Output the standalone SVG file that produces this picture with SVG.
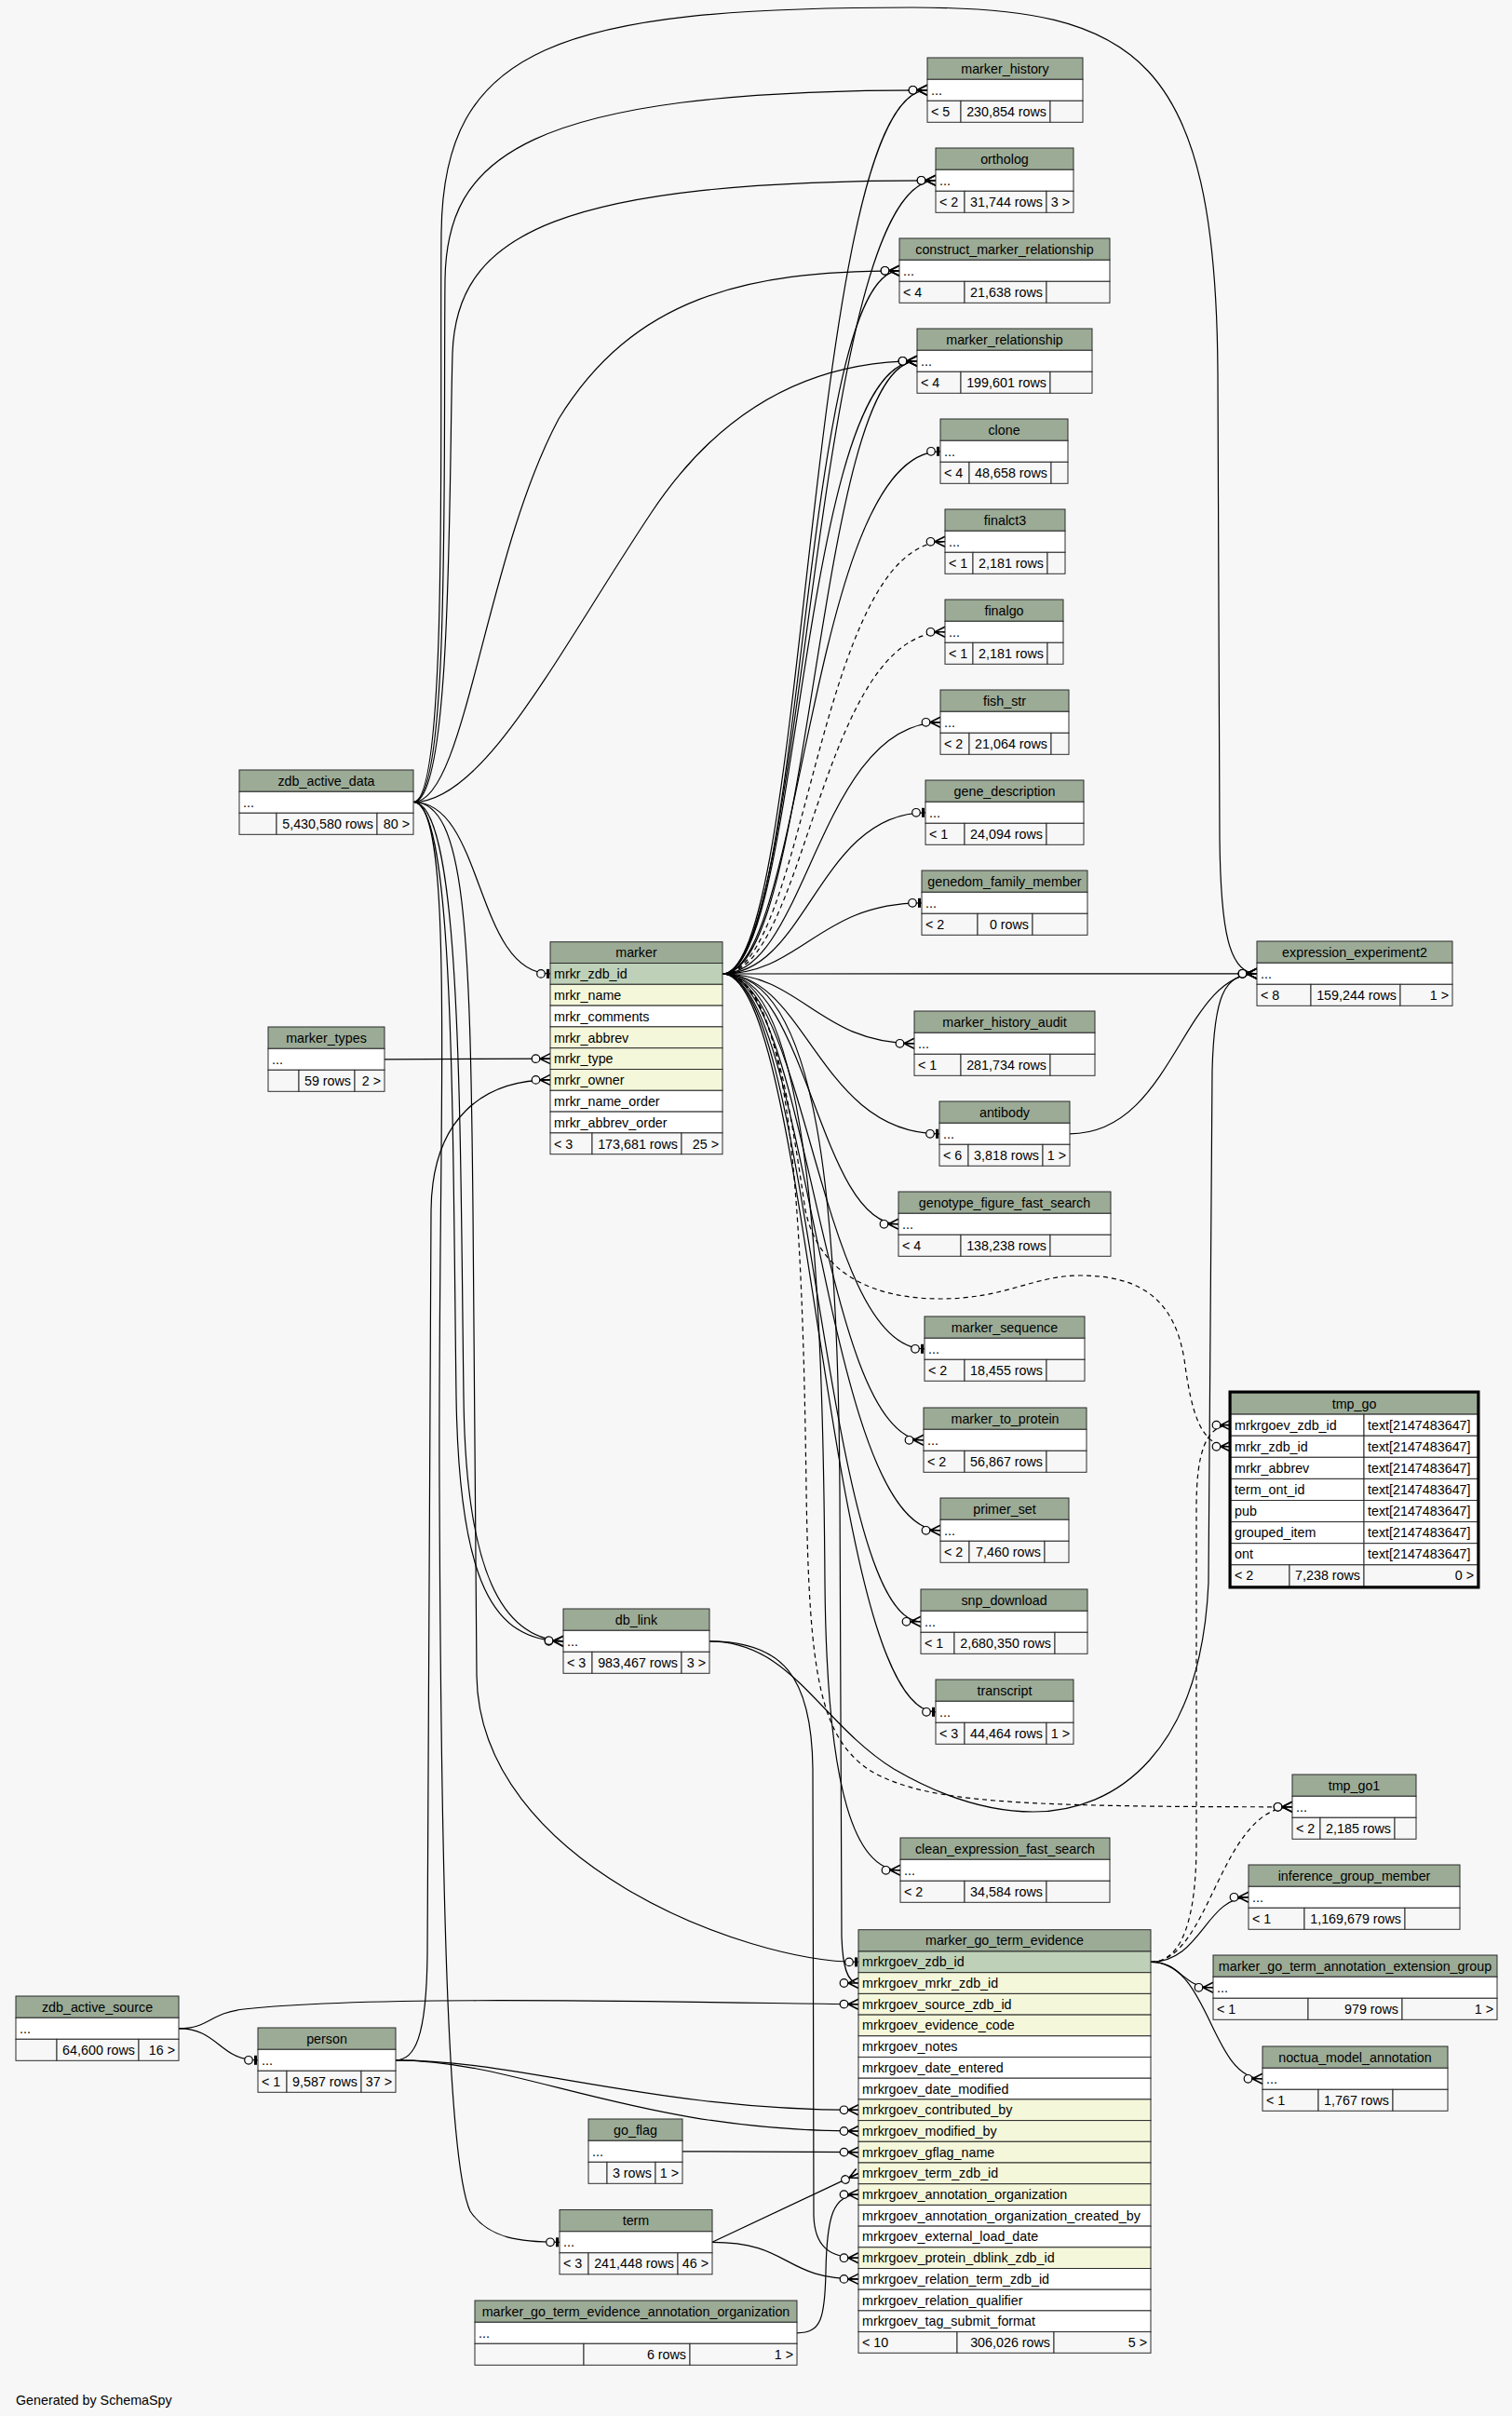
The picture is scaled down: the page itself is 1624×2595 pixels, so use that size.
<svg xmlns="http://www.w3.org/2000/svg" width="1624" height="2595" viewBox="0 0 1624 2595">
<style>
text{font-family:"Liberation Sans",Arial,Helvetica,sans-serif;font-size:14.3px;fill:#000}
.hd{fill:#9bab96;stroke:#2b2b2b;stroke-width:1}
.w{fill:#ffffff;stroke:#2b2b2b;stroke-width:1}
.pk{fill:#bed1b8;stroke:#2b2b2b;stroke-width:1}
.ix{fill:#f4f7da;stroke:#2b2b2b;stroke-width:1}
.ft{fill:#f7f7f7;stroke:#2b2b2b;stroke-width:1}
.tk{fill:none;stroke:#000;stroke-width:3}
.c{text-anchor:middle}
.r{text-anchor:end}
.e{fill:none;stroke:#000;stroke-width:1.2}
.d{stroke-dasharray:5,4}
.cr{marker-end:url(#crow)}
.te{marker-end:url(#tee)}
</style>
<defs>
<marker id="crow" viewBox="-24 -8 26 16" refX="0" refY="0" markerWidth="26" markerHeight="16" markerUnits="userSpaceOnUse" orient="auto">
<path d="M0,-5.5 L-11,0 L0,5.5 M-11,0 L0,0" fill="none" stroke="#000" stroke-width="1.6" stroke-dasharray="none"/>
<circle cx="-15.5" cy="0" r="4.3" fill="#f7f7f7" stroke="#000" stroke-width="1.2" stroke-dasharray="none"/>
</marker>
<marker id="tee" viewBox="-24 -8 26 16" refX="0" refY="0" markerWidth="26" markerHeight="16" markerUnits="userSpaceOnUse" orient="auto">
<path d="M-2.5,-5 L-2.5,5" fill="none" stroke="#000" stroke-width="3" stroke-dasharray="none"/>
<circle cx="-10" cy="0" r="4.3" fill="#f7f7f7" stroke="#000" stroke-width="1.2" stroke-dasharray="none"/>
</marker>
</defs>
<rect x="0" y="0" width="1624" height="2595" fill="#f7f7f7"/>

<g id="connectors">
<path class="e cr" d="M776,1046 C868,1046 866,96.8 996,96.8"/>
<path class="e cr" d="M776,1046 C866,1046 872,193.8 1005,193.8"/>
<path class="e cr" d="M776,1046 C864,1046 860,290.8 966,290.8"/>
<path class="e cr" d="M776,1046 C860,1046 858,387.8 985,387.8"/>
<path class="e cr" d="M776,1046 C874,1046 876,387.8 985,387.8"/>
<path class="e te" d="M776,1046 C862,1046 870,484.8 1010,484.8"/>
<path class="e d cr" d="M776,1046 C866,1046 878,581.8 1015,581.8"/>
<path class="e d cr" d="M776,1046 C866,1046 880,678.8 1015,678.8"/>
<path class="e cr" d="M776,1046 C866,1046 880,775.8 1010,775.8"/>
<path class="e te" d="M776,1046 C866,1046 880,872.8 994,872.8"/>
<path class="e te" d="M776,1046 C860,1046 880,969.8 990,969.8"/>
<path class="e cr" d="M776,1046 L1350,1045.8"/>
<path class="e cr" d="M776,1046 C860,1046 880,1120.8 982,1120.8"/>
<path class="e te" d="M776,1046 C866,1046 880,1217.8 1009,1217.8"/>
<path class="e cr" d="M776,1046 C866,1046 880,1314.8 965,1314.8"/>
<path class="e te" d="M776,1046 C866,1046 880,1448.8 993,1448.8"/>
<path class="e cr" d="M776,1046 C868,1046 882,1546.8 992,1546.8"/>
<path class="e cr" d="M776,1046 C868,1046 884,1643.8 1010,1643.8"/>
<path class="e cr" d="M776,1046 C870,1046 884,1741.8 989,1741.8"/>
<path class="e te" d="M776,1046 C870,1046 886,1838.8 1005,1838.8"/>
<path class="e cr" d="M776,1046 C872,1046 884,1400 886,1700 C888,1930 920,2008.8 967,2008.8"/>
<path class="e cr" d="M776,1046 C880,1046 900,1300 902,1600 L904,2080 C905,2112 910,2130 922,2130"/>
<path class="e d cr" d="M776,1046 C850,1046 862,1300 866,1600 C869,1800 880,1870 940,1905 C1000,1935 1080,1940.8 1388,1940.8"/>
<path class="e d cr" d="M776,1046 C830,1046 850,1200 865,1300 C880,1370 940,1395 1010,1395 C1080,1395 1110,1370 1160,1370 C1230,1370 1262,1400 1272,1460 C1280,1520 1290,1553.75 1322,1553.75"/>
<path class="e cr" d="M444,861.5 C484,861.5 476,500 478,300 C480,170 560,96.8 996,96.8"/>
<path class="e cr" d="M444,861.5 C486,861.5 482,520 486,380 C490,250 600,193.8 1005,193.8"/>
<path class="e cr" d="M444,861.5 C500,861.5 520,600 600,450 C680,320 800,290.8 966,290.8"/>
<path class="e cr" d="M444,861.5 C520,861.5 600,700 700,550 C780,430 880,387.8 985,387.8"/>
<path class="e cr" d="M444,861.5 C482,861.5 472,450 474,250 C476,50 600,8 980,8 C1220,8 1306,60 1308,400 L1310,900 C1311,1000 1320,1045.8 1350,1045.8"/>
<path class="e te" d="M444,861.5 C520,861.5 510,1045.9 591,1045.9"/>
<path class="e cr" d="M444,861.5 C488,861.5 486,1200 490,1500 C493,1700 530,1762.8 605,1762.8"/>
<path class="e cr" d="M444,861.5 C496,861.5 494,1200 498,1500 C500,1690 540,1760 605,1762.8"/>
<path class="e te" d="M444,861.5 C490,861.5 470,1200 472,1600 C474,2100 484,2330 505,2375 C525,2405 560,2408.3 601,2408.3"/>
<path class="e te" d="M444,861.5 C500,861.5 505,1000 508,1300 L512,1800 C515,2000 800,2107.4 922,2107.4"/>
<path class="e cr" d="M413,1137.8 L591,1137.1"/>
<path class="e cr" d="M425,2212.8 C445,2212.8 458,2190 459,2100 L463,1300 C464,1200 520,1159.9 591,1159.9"/>
<path class="e cr" d="M425,2212.8 C560,2212.8 700,2266.3 922,2266.3"/>
<path class="e cr" d="M425,2212.8 C560,2212.8 680,2289 922,2289"/>
<path class="e te" d="M192,2178.8 C235,2178.8 235,2212.8 277,2212.8"/>
<path class="e cr" d="M192,2178.8 C225,2178.8 225,2162 262,2158 C400,2143 700,2150 922,2152.8"/>
<path class="e cr" d="M733,2310.8 L922,2311.7"/>
<path class="e cr" d="M765,2408.3 L922,2334.4"/>
<path class="e cr" d="M765,2408.3 C850,2408.3 840,2447.9 922,2447.9"/>
<path class="e cr" d="M856,2505.8 C882,2505.8 886,2490 887,2440 C888,2380 895,2357.1 922,2357.1"/>
<path class="e cr" d="M762,1762.8 C840,1762.8 872,1800 873,1900 L874,2380 C875,2412 890,2425.2 922,2425.2"/>
<path class="e cr" d="M762,1762.8 C850,1762.8 880,1850 960,1900 C1020,1935 1070,1946 1110,1946 C1200,1946 1290,1880 1298,1700 L1302,1150 C1304,1070 1314,1045.8 1350,1045.8"/>
<path class="e cr" d="M1149,1217.8 C1260,1217.8 1270,1045.8 1350,1045.8"/>
<path class="e cr" d="M1236,2107.4 C1290,2107.4 1295,2037.8 1341,2037.8"/>
<path class="e cr" d="M1236,2107.4 C1270,2107.4 1268,2134.8 1303,2134.8"/>
<path class="e cr" d="M1236,2107.4 C1300,2107.4 1300,2232.8 1356,2232.8"/>
<path class="e d cr" d="M1236,2107.4 C1300,2107.4 1310,1940.8 1388,1940.8"/>
<path class="e d cr" d="M1236,2107.4 C1270,2107.4 1285,2060 1285,1980 L1285,1620 C1285,1560 1295,1530.65 1322,1530.65"/>
</g>

<g id="marker_history">
<rect class="hd" x="996" y="62" width="167" height="23.3"/><text class="c" x="1079.5" y="78.6">marker_history</text>
<rect class="w" x="996" y="85.3" width="167" height="23"/><text x="1000" y="101.8">...</text>
<rect class="ft" x="996" y="108.3" width="36" height="23"/><rect class="ft" x="1032" y="108.3" width="96" height="23"/><rect class="ft" x="1128" y="108.3" width="35" height="23"/>
<text x="1000" y="124.8">&lt; 5</text><text class="r" x="1124" y="124.8">230,854 rows</text>
</g>
<g id="ortholog">
<rect class="hd" x="1005" y="159" width="148" height="23.3"/><text class="c" x="1079" y="175.6">ortholog</text>
<rect class="w" x="1005" y="182.3" width="148" height="23"/><text x="1009" y="198.8">...</text>
<rect class="ft" x="1005" y="205.3" width="31" height="23"/><rect class="ft" x="1036" y="205.3" width="88" height="23"/><rect class="ft" x="1124" y="205.3" width="29" height="23"/>
<text x="1009" y="221.8">&lt; 2</text><text class="r" x="1120" y="221.8">31,744 rows</text><text class="r" x="1149" y="221.8">3 &gt;</text>
</g>
<g id="construct_marker_relationship">
<rect class="hd" x="966" y="256" width="226" height="23.3"/><text class="c" x="1079" y="272.6">construct_marker_relationship</text>
<rect class="w" x="966" y="279.3" width="226" height="23"/><text x="970" y="295.8">...</text>
<rect class="ft" x="966" y="302.3" width="70" height="23"/><rect class="ft" x="1036" y="302.3" width="88" height="23"/><rect class="ft" x="1124" y="302.3" width="68" height="23"/>
<text x="970" y="318.8">&lt; 4</text><text class="r" x="1120" y="318.8">21,638 rows</text>
</g>
<g id="marker_relationship">
<rect class="hd" x="985" y="353" width="188" height="23.3"/><text class="c" x="1079" y="369.6">marker_relationship</text>
<rect class="w" x="985" y="376.3" width="188" height="23"/><text x="989" y="392.8">...</text>
<rect class="ft" x="985" y="399.3" width="47" height="23"/><rect class="ft" x="1032" y="399.3" width="96" height="23"/><rect class="ft" x="1128" y="399.3" width="45" height="23"/>
<text x="989" y="415.8">&lt; 4</text><text class="r" x="1124" y="415.8">199,601 rows</text>
</g>
<g id="clone">
<rect class="hd" x="1010" y="450" width="137" height="23.3"/><text class="c" x="1078.5" y="466.6">clone</text>
<rect class="w" x="1010" y="473.3" width="137" height="23"/><text x="1014" y="489.8">...</text>
<rect class="ft" x="1010" y="496.3" width="31" height="23"/><rect class="ft" x="1041" y="496.3" width="88" height="23"/><rect class="ft" x="1129" y="496.3" width="18" height="23"/>
<text x="1014" y="512.8">&lt; 4</text><text class="r" x="1125" y="512.8">48,658 rows</text>
</g>
<g id="finalct3">
<rect class="hd" x="1015" y="547" width="129" height="23.3"/><text class="c" x="1079.5" y="563.6">finalct3</text>
<rect class="w" x="1015" y="570.3" width="129" height="23"/><text x="1019" y="586.8">...</text>
<rect class="ft" x="1015" y="593.3" width="30" height="23"/><rect class="ft" x="1045" y="593.3" width="80" height="23"/><rect class="ft" x="1125" y="593.3" width="19" height="23"/>
<text x="1019" y="609.8">&lt; 1</text><text class="r" x="1121" y="609.8">2,181 rows</text>
</g>
<g id="finalgo">
<rect class="hd" x="1015" y="644" width="127" height="23.3"/><text class="c" x="1078.5" y="660.6">finalgo</text>
<rect class="w" x="1015" y="667.3" width="127" height="23"/><text x="1019" y="683.8">...</text>
<rect class="ft" x="1015" y="690.3" width="30" height="23"/><rect class="ft" x="1045" y="690.3" width="80" height="23"/><rect class="ft" x="1125" y="690.3" width="17" height="23"/>
<text x="1019" y="706.8">&lt; 1</text><text class="r" x="1121" y="706.8">2,181 rows</text>
</g>
<g id="fish_str">
<rect class="hd" x="1010" y="741" width="138" height="23.3"/><text class="c" x="1079" y="757.6">fish_str</text>
<rect class="w" x="1010" y="764.3" width="138" height="23"/><text x="1014" y="780.8">...</text>
<rect class="ft" x="1010" y="787.3" width="31" height="23"/><rect class="ft" x="1041" y="787.3" width="88" height="23"/><rect class="ft" x="1129" y="787.3" width="19" height="23"/>
<text x="1014" y="803.8">&lt; 2</text><text class="r" x="1125" y="803.8">21,064 rows</text>
</g>
<g id="gene_description">
<rect class="hd" x="994" y="838" width="170" height="23.3"/><text class="c" x="1079" y="854.6">gene_description</text>
<rect class="w" x="994" y="861.3" width="170" height="23"/><text x="998" y="877.8">...</text>
<rect class="ft" x="994" y="884.3" width="42" height="23"/><rect class="ft" x="1036" y="884.3" width="88" height="23"/><rect class="ft" x="1124" y="884.3" width="40" height="23"/>
<text x="998" y="900.8">&lt; 1</text><text class="r" x="1120" y="900.8">24,094 rows</text>
</g>
<g id="genedom_family_member">
<rect class="hd" x="990" y="935" width="178" height="23.3"/><text class="c" x="1079" y="951.6">genedom_family_member</text>
<rect class="w" x="990" y="958.3" width="178" height="23"/><text x="994" y="974.8">...</text>
<rect class="ft" x="990" y="981.3" width="60" height="23"/><rect class="ft" x="1050" y="981.3" width="59" height="23"/><rect class="ft" x="1109" y="981.3" width="59" height="23"/>
<text x="994" y="997.8">&lt; 2</text><text class="r" x="1105" y="997.8">0 rows</text>
</g>
<g id="expression_experiment2">
<rect class="hd" x="1350" y="1011" width="210" height="23.3"/><text class="c" x="1455" y="1027.6">expression_experiment2</text>
<rect class="w" x="1350" y="1034.3" width="210" height="23"/><text x="1354" y="1050.8">...</text>
<rect class="ft" x="1350" y="1057.3" width="58" height="23"/><rect class="ft" x="1408" y="1057.3" width="96" height="23"/><rect class="ft" x="1504" y="1057.3" width="56" height="23"/>
<text x="1354" y="1073.8">&lt; 8</text><text class="r" x="1500" y="1073.8">159,244 rows</text><text class="r" x="1556" y="1073.8">1 &gt;</text>
</g>
<g id="marker_history_audit">
<rect class="hd" x="982" y="1086" width="194" height="23.3"/><text class="c" x="1079" y="1102.6">marker_history_audit</text>
<rect class="w" x="982" y="1109.3" width="194" height="23"/><text x="986" y="1125.8">...</text>
<rect class="ft" x="982" y="1132.3" width="50" height="23"/><rect class="ft" x="1032" y="1132.3" width="96" height="23"/><rect class="ft" x="1128" y="1132.3" width="48" height="23"/>
<text x="986" y="1148.8">&lt; 1</text><text class="r" x="1124" y="1148.8">281,734 rows</text>
</g>
<g id="antibody">
<rect class="hd" x="1009" y="1183" width="140" height="23.3"/><text class="c" x="1079" y="1199.6">antibody</text>
<rect class="w" x="1009" y="1206.3" width="140" height="23"/><text x="1013" y="1222.8">...</text>
<rect class="ft" x="1009" y="1229.3" width="31" height="23"/><rect class="ft" x="1040" y="1229.3" width="80" height="23"/><rect class="ft" x="1120" y="1229.3" width="29" height="23"/>
<text x="1013" y="1245.8">&lt; 6</text><text class="r" x="1116" y="1245.8">3,818 rows</text><text class="r" x="1145" y="1245.8">1 &gt;</text>
</g>
<g id="genotype_figure_fast_search">
<rect class="hd" x="965" y="1280" width="228" height="23.3"/><text class="c" x="1079" y="1296.6">genotype_figure_fast_search</text>
<rect class="w" x="965" y="1303.3" width="228" height="23"/><text x="969" y="1319.8">...</text>
<rect class="ft" x="965" y="1326.3" width="67" height="23"/><rect class="ft" x="1032" y="1326.3" width="96" height="23"/><rect class="ft" x="1128" y="1326.3" width="65" height="23"/>
<text x="969" y="1342.8">&lt; 4</text><text class="r" x="1124" y="1342.8">138,238 rows</text>
</g>
<g id="marker_sequence">
<rect class="hd" x="993" y="1414" width="172" height="23.3"/><text class="c" x="1079" y="1430.6">marker_sequence</text>
<rect class="w" x="993" y="1437.3" width="172" height="23"/><text x="997" y="1453.8">...</text>
<rect class="ft" x="993" y="1460.3" width="43" height="23"/><rect class="ft" x="1036" y="1460.3" width="88" height="23"/><rect class="ft" x="1124" y="1460.3" width="41" height="23"/>
<text x="997" y="1476.8">&lt; 2</text><text class="r" x="1120" y="1476.8">18,455 rows</text>
</g>
<g id="marker_to_protein">
<rect class="hd" x="992" y="1512" width="175" height="23.3"/><text class="c" x="1079.5" y="1528.6">marker_to_protein</text>
<rect class="w" x="992" y="1535.3" width="175" height="23"/><text x="996" y="1551.8">...</text>
<rect class="ft" x="992" y="1558.3" width="44" height="23"/><rect class="ft" x="1036" y="1558.3" width="88" height="23"/><rect class="ft" x="1124" y="1558.3" width="43" height="23"/>
<text x="996" y="1574.8">&lt; 2</text><text class="r" x="1120" y="1574.8">56,867 rows</text>
</g>
<g id="primer_set">
<rect class="hd" x="1010" y="1609" width="138" height="23.3"/><text class="c" x="1079" y="1625.6">primer_set</text>
<rect class="w" x="1010" y="1632.3" width="138" height="23"/><text x="1014" y="1648.8">...</text>
<rect class="ft" x="1010" y="1655.3" width="31" height="23"/><rect class="ft" x="1041" y="1655.3" width="81" height="23"/><rect class="ft" x="1122" y="1655.3" width="26" height="23"/>
<text x="1014" y="1671.8">&lt; 2</text><text class="r" x="1118" y="1671.8">7,460 rows</text>
</g>
<g id="snp_download">
<rect class="hd" x="989" y="1707" width="179" height="23.3"/><text class="c" x="1078.5" y="1723.6">snp_download</text>
<rect class="w" x="989" y="1730.3" width="179" height="23"/><text x="993" y="1746.8">...</text>
<rect class="ft" x="989" y="1753.3" width="36" height="23"/><rect class="ft" x="1025" y="1753.3" width="108" height="23"/><rect class="ft" x="1133" y="1753.3" width="35" height="23"/>
<text x="993" y="1769.8">&lt; 1</text><text class="r" x="1129" y="1769.8">2,680,350 rows</text>
</g>
<g id="transcript">
<rect class="hd" x="1005" y="1804" width="148" height="23.3"/><text class="c" x="1079" y="1820.6">transcript</text>
<rect class="w" x="1005" y="1827.3" width="148" height="23"/><text x="1009" y="1843.8">...</text>
<rect class="ft" x="1005" y="1850.3" width="31" height="23"/><rect class="ft" x="1036" y="1850.3" width="88" height="23"/><rect class="ft" x="1124" y="1850.3" width="29" height="23"/>
<text x="1009" y="1866.8">&lt; 3</text><text class="r" x="1120" y="1866.8">44,464 rows</text><text class="r" x="1149" y="1866.8">1 &gt;</text>
</g>
<g id="tmp_go1">
<rect class="hd" x="1388" y="1906" width="133" height="23.3"/><text class="c" x="1454.5" y="1922.6">tmp_go1</text>
<rect class="w" x="1388" y="1929.3" width="133" height="23"/><text x="1392" y="1945.8">...</text>
<rect class="ft" x="1388" y="1952.3" width="30" height="23"/><rect class="ft" x="1418" y="1952.3" width="80" height="23"/><rect class="ft" x="1498" y="1952.3" width="23" height="23"/>
<text x="1392" y="1968.8">&lt; 2</text><text class="r" x="1494" y="1968.8">2,185 rows</text>
</g>
<g id="clean_expression_fast_search">
<rect class="hd" x="967" y="1974" width="225" height="23.3"/><text class="c" x="1079.5" y="1990.6">clean_expression_fast_search</text>
<rect class="w" x="967" y="1997.3" width="225" height="23"/><text x="971" y="2013.8">...</text>
<rect class="ft" x="967" y="2020.3" width="69" height="23"/><rect class="ft" x="1036" y="2020.3" width="88" height="23"/><rect class="ft" x="1124" y="2020.3" width="68" height="23"/>
<text x="971" y="2036.8">&lt; 2</text><text class="r" x="1120" y="2036.8">34,584 rows</text>
</g>
<g id="inference_group_member">
<rect class="hd" x="1341" y="2003" width="227" height="23.3"/><text class="c" x="1454.5" y="2019.6">inference_group_member</text>
<rect class="w" x="1341" y="2026.3" width="227" height="23"/><text x="1345" y="2042.8">...</text>
<rect class="ft" x="1341" y="2049.3" width="60" height="23"/><rect class="ft" x="1401" y="2049.3" width="108" height="23"/><rect class="ft" x="1509" y="2049.3" width="59" height="23"/>
<text x="1345" y="2065.8">&lt; 1</text><text class="r" x="1505" y="2065.8">1,169,679 rows</text>
</g>
<g id="marker_go_term_annotation_extension_group">
<rect class="hd" x="1303" y="2100" width="305" height="23.3"/><text class="c" x="1455.5" y="2116.6">marker_go_term_annotation_extension_group</text>
<rect class="w" x="1303" y="2123.3" width="305" height="23"/><text x="1307" y="2139.8">...</text>
<rect class="ft" x="1303" y="2146.3" width="102" height="23"/><rect class="ft" x="1405" y="2146.3" width="101" height="23"/><rect class="ft" x="1506" y="2146.3" width="102" height="23"/>
<text x="1307" y="2162.8">&lt; 1</text><text class="r" x="1502" y="2162.8">979 rows</text><text class="r" x="1604" y="2162.8">1 &gt;</text>
</g>
<g id="noctua_model_annotation">
<rect class="hd" x="1356" y="2198" width="199" height="23.3"/><text class="c" x="1455.5" y="2214.6">noctua_model_annotation</text>
<rect class="w" x="1356" y="2221.3" width="199" height="23"/><text x="1360" y="2237.8">...</text>
<rect class="ft" x="1356" y="2244.3" width="60" height="23"/><rect class="ft" x="1416" y="2244.3" width="80" height="23"/><rect class="ft" x="1496" y="2244.3" width="59" height="23"/>
<text x="1360" y="2260.8">&lt; 1</text><text class="r" x="1492" y="2260.8">1,767 rows</text>
</g>
<g id="zdb_active_data">
<rect class="hd" x="257" y="827" width="187" height="23.3"/><text class="c" x="350.5" y="843.6">zdb_active_data</text>
<rect class="w" x="257" y="850.3" width="187" height="23"/><text x="261" y="866.8">...</text>
<rect class="ft" x="257" y="873.3" width="40" height="23"/><rect class="ft" x="297" y="873.3" width="108" height="23"/><rect class="ft" x="405" y="873.3" width="39" height="23"/>
<text class="r" x="401" y="889.8">5,430,580 rows</text><text class="r" x="440" y="889.8">80 &gt;</text>
</g>
<g id="marker_types">
<rect class="hd" x="288" y="1103" width="125" height="23.3"/><text class="c" x="350.5" y="1119.6">marker_types</text>
<rect class="w" x="288" y="1126.3" width="125" height="23"/><text x="292" y="1142.8">...</text>
<rect class="ft" x="288" y="1149.3" width="33" height="23"/><rect class="ft" x="321" y="1149.3" width="60" height="23"/><rect class="ft" x="381" y="1149.3" width="32" height="23"/>
<text class="r" x="377" y="1165.8">59 rows</text><text class="r" x="409" y="1165.8">2 &gt;</text>
</g>
<g id="db_link">
<rect class="hd" x="605" y="1728" width="157" height="23.3"/><text class="c" x="683.5" y="1744.6">db_link</text>
<rect class="w" x="605" y="1751.3" width="157" height="23"/><text x="609" y="1767.8">...</text>
<rect class="ft" x="605" y="1774.3" width="31" height="23"/><rect class="ft" x="636" y="1774.3" width="96" height="23"/><rect class="ft" x="732" y="1774.3" width="30" height="23"/>
<text x="609" y="1790.8">&lt; 3</text><text class="r" x="728" y="1790.8">983,467 rows</text><text class="r" x="758" y="1790.8">3 &gt;</text>
</g>
<g id="zdb_active_source">
<rect class="hd" x="17" y="2144" width="175" height="23.3"/><text class="c" x="104.5" y="2160.6">zdb_active_source</text>
<rect class="w" x="17" y="2167.3" width="175" height="23"/><text x="21" y="2183.8">...</text>
<rect class="ft" x="17" y="2190.3" width="44" height="23"/><rect class="ft" x="61" y="2190.3" width="88" height="23"/><rect class="ft" x="149" y="2190.3" width="43" height="23"/>
<text class="r" x="145" y="2206.8">64,600 rows</text><text class="r" x="188" y="2206.8">16 &gt;</text>
</g>
<g id="person">
<rect class="hd" x="277" y="2178" width="148" height="23.3"/><text class="c" x="351" y="2194.6">person</text>
<rect class="w" x="277" y="2201.3" width="148" height="23"/><text x="281" y="2217.8">...</text>
<rect class="ft" x="277" y="2224.3" width="31" height="23"/><rect class="ft" x="308" y="2224.3" width="80" height="23"/><rect class="ft" x="388" y="2224.3" width="37" height="23"/>
<text x="281" y="2240.8">&lt; 1</text><text class="r" x="384" y="2240.8">9,587 rows</text><text class="r" x="421" y="2240.8">37 &gt;</text>
</g>
<g id="go_flag">
<rect class="hd" x="632" y="2276" width="101" height="23.3"/><text class="c" x="682.5" y="2292.6">go_flag</text>
<rect class="w" x="632" y="2299.3" width="101" height="23"/><text x="636" y="2315.8">...</text>
<rect class="ft" x="632" y="2322.3" width="20" height="23"/><rect class="ft" x="652" y="2322.3" width="52" height="23"/><rect class="ft" x="704" y="2322.3" width="29" height="23"/>
<text class="r" x="700" y="2338.8">3 rows</text><text class="r" x="729" y="2338.8">1 &gt;</text>
</g>
<g id="term">
<rect class="hd" x="601" y="2373.5" width="164" height="23.3"/><text class="c" x="683" y="2390.1">term</text>
<rect class="w" x="601" y="2396.8" width="164" height="23"/><text x="605" y="2413.3">...</text>
<rect class="ft" x="601" y="2419.8" width="31" height="23"/><rect class="ft" x="632" y="2419.8" width="96" height="23"/><rect class="ft" x="728" y="2419.8" width="37" height="23"/>
<text x="605" y="2436.3">&lt; 3</text><text class="r" x="724" y="2436.3">241,448 rows</text><text class="r" x="761" y="2436.3">46 &gt;</text>
</g>
<g id="marker_go_term_evidence_annotation_organization">
<rect class="hd" x="510" y="2471" width="346" height="23.3"/><text class="c" x="683" y="2487.6">marker_go_term_evidence_annotation_organization</text>
<rect class="w" x="510" y="2494.3" width="346" height="23"/><text x="514" y="2510.8">...</text>
<rect class="ft" x="510" y="2517.3" width="117" height="23"/><rect class="ft" x="627" y="2517.3" width="114" height="23"/><rect class="ft" x="741" y="2517.3" width="115" height="23"/>
<text class="r" x="737" y="2533.8">6 rows</text><text class="r" x="852" y="2533.8">1 &gt;</text>
</g>
<g id="marker">
<rect class="hd" x="591" y="1011.7" width="185" height="22.8"/><text class="c" x="683.5" y="1028.4">marker</text>
<rect class="pk" x="591" y="1034.5" width="185" height="22.8"/><text x="595" y="1051.2">mrkr_zdb_id</text>
<rect class="ix" x="591" y="1057.3" width="185" height="22.8"/><text x="595" y="1074">mrkr_name</text>
<rect class="w" x="591" y="1080.1" width="185" height="22.8"/><text x="595" y="1096.8">mrkr_comments</text>
<rect class="ix" x="591" y="1102.9" width="185" height="22.8"/><text x="595" y="1119.6">mrkr_abbrev</text>
<rect class="ix" x="591" y="1125.7" width="185" height="22.8"/><text x="595" y="1142.4">mrkr_type</text>
<rect class="ix" x="591" y="1148.5" width="185" height="22.8"/><text x="595" y="1165.2">mrkr_owner</text>
<rect class="w" x="591" y="1171.3" width="185" height="22.8"/><text x="595" y="1188">mrkr_name_order</text>
<rect class="w" x="591" y="1194.1" width="185" height="22.8"/><text x="595" y="1210.8">mrkr_abbrev_order</text>
<rect class="ft" x="591" y="1216.9" width="45" height="22.8"/><rect class="ft" x="636" y="1216.9" width="96" height="22.8"/><rect class="ft" x="732" y="1216.9" width="44" height="22.8"/>
<text x="595" y="1233.6">&lt; 3</text><text class="r" x="728" y="1233.6">173,681 rows</text><text class="r" x="772" y="1233.6">25 &gt;</text>
</g>
<g id="marker_go_term_evidence">
<rect class="hd" x="922" y="2072.7" width="314" height="23.3"/><text class="c" x="1079" y="2089.3">marker_go_term_evidence</text>
<rect class="pk" x="922" y="2096" width="314" height="22.7"/><text x="926" y="2112.3">mrkrgoev_zdb_id</text>
<rect class="ix" x="922" y="2118.7" width="314" height="22.7"/><text x="926" y="2135">mrkrgoev_mrkr_zdb_id</text>
<rect class="ix" x="922" y="2141.4" width="314" height="22.7"/><text x="926" y="2157.7">mrkrgoev_source_zdb_id</text>
<rect class="ix" x="922" y="2164.1" width="314" height="22.7"/><text x="926" y="2180.4">mrkrgoev_evidence_code</text>
<rect class="w" x="922" y="2186.8" width="314" height="22.7"/><text x="926" y="2203.1">mrkrgoev_notes</text>
<rect class="w" x="922" y="2209.5" width="314" height="22.7"/><text x="926" y="2225.8">mrkrgoev_date_entered</text>
<rect class="w" x="922" y="2232.2" width="314" height="22.7"/><text x="926" y="2248.5">mrkrgoev_date_modified</text>
<rect class="ix" x="922" y="2254.9" width="314" height="22.7"/><text x="926" y="2271.2">mrkrgoev_contributed_by</text>
<rect class="ix" x="922" y="2277.6" width="314" height="22.7"/><text x="926" y="2293.9">mrkrgoev_modified_by</text>
<rect class="ix" x="922" y="2300.3" width="314" height="22.7"/><text x="926" y="2316.6">mrkrgoev_gflag_name</text>
<rect class="ix" x="922" y="2323" width="314" height="22.7"/><text x="926" y="2339.3">mrkrgoev_term_zdb_id</text>
<rect class="ix" x="922" y="2345.7" width="314" height="22.7"/><text x="926" y="2362">mrkrgoev_annotation_organization</text>
<rect class="w" x="922" y="2368.4" width="314" height="22.7"/><text x="926" y="2384.7">mrkrgoev_annotation_organization_created_by</text>
<rect class="w" x="922" y="2391.1" width="314" height="22.7"/><text x="926" y="2407.4">mrkrgoev_external_load_date</text>
<rect class="ix" x="922" y="2413.8" width="314" height="22.7"/><text x="926" y="2430.1">mrkrgoev_protein_dblink_zdb_id</text>
<rect class="w" x="922" y="2436.5" width="314" height="22.7"/><text x="926" y="2452.8">mrkrgoev_relation_term_zdb_id</text>
<rect class="w" x="922" y="2459.2" width="314" height="22.7"/><text x="926" y="2475.5">mrkrgoev_relation_qualifier</text>
<rect class="w" x="922" y="2481.9" width="314" height="22.7"/><text x="926" y="2498.2">mrkrgoev_tag_submit_format</text>
<rect class="ft" x="922" y="2504.6" width="106" height="22.7"/><rect class="ft" x="1028" y="2504.6" width="104" height="22.7"/><rect class="ft" x="1132" y="2504.6" width="104" height="22.7"/>
<text x="926" y="2520.9">&lt; 10</text><text class="r" x="1128" y="2520.9">306,026 rows</text><text class="r" x="1232" y="2520.9">5 &gt;</text>
</g>
<g id="tmp_go">
<rect class="hd" x="1322" y="1496" width="265" height="23.1"/><text class="c" x="1454.5" y="1512.5">tmp_go</text>
<rect class="w" x="1322" y="1519.1" width="143" height="23.1"/><rect class="w" x="1465" y="1519.1" width="122" height="23.1"/><text x="1326" y="1535.6">mrkrgoev_zdb_id</text><text x="1469" y="1535.6">text[2147483647]</text>
<rect class="w" x="1322" y="1542.2" width="143" height="23.1"/><rect class="w" x="1465" y="1542.2" width="122" height="23.1"/><text x="1326" y="1558.7">mrkr_zdb_id</text><text x="1469" y="1558.7">text[2147483647]</text>
<rect class="w" x="1322" y="1565.3" width="143" height="23.1"/><rect class="w" x="1465" y="1565.3" width="122" height="23.1"/><text x="1326" y="1581.8">mrkr_abbrev</text><text x="1469" y="1581.8">text[2147483647]</text>
<rect class="w" x="1322" y="1588.4" width="143" height="23.1"/><rect class="w" x="1465" y="1588.4" width="122" height="23.1"/><text x="1326" y="1604.9">term_ont_id</text><text x="1469" y="1604.9">text[2147483647]</text>
<rect class="w" x="1322" y="1611.5" width="143" height="23.1"/><rect class="w" x="1465" y="1611.5" width="122" height="23.1"/><text x="1326" y="1628">pub</text><text x="1469" y="1628">text[2147483647]</text>
<rect class="w" x="1322" y="1634.6" width="143" height="23.1"/><rect class="w" x="1465" y="1634.6" width="122" height="23.1"/><text x="1326" y="1651.1">grouped_item</text><text x="1469" y="1651.1">text[2147483647]</text>
<rect class="w" x="1322" y="1657.7" width="143" height="23.1"/><rect class="w" x="1465" y="1657.7" width="122" height="23.1"/><text x="1326" y="1674.2">ont</text><text x="1469" y="1674.2">text[2147483647]</text>
<rect class="ft" x="1322" y="1680.8" width="63" height="23.1"/><rect class="ft" x="1385" y="1680.8" width="80" height="23.1"/><rect class="ft" x="1465" y="1680.8" width="122" height="23.1"/>
<text x="1326" y="1697.3">&lt; 2</text><text class="r" x="1461" y="1697.3">7,238 rows</text><text class="r" x="1583" y="1697.3">0 &gt;</text>
<rect class="tk" x="1321" y="1495" width="267" height="210"/>
</g>
<text x="17" y="2583">Generated by SchemaSpy</text>
</svg>
